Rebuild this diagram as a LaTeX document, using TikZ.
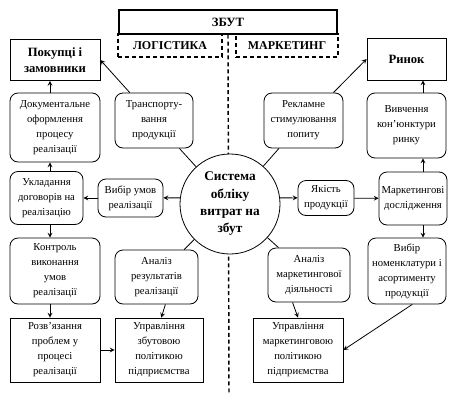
\documentclass[tikz,border=0pt]{standalone}
\usepackage{fontspec}
\setmainfont{Liberation Serif}

\begin{document}
\begin{tikzpicture}[x=0.75pt,y=-0.75pt,>=stealth,line width=0.6pt,
  box/.style={draw,align=center,inner sep=1pt,font=\fontsize{8}{11.25}\selectfont},
  rbox/.style={box,rounded corners=6pt},
  head node/.style={draw,align=center,inner sep=1pt,font=\fontsize{9.5}{12}\selectfont\bfseries},
  dash box/.style={draw,dash pattern=on 3pt off 2.2pt,line width=1.1pt,minimum height=17.25pt,font=\fontsize{9}{11}\selectfont\bfseries}]

            \useasboundingbox (0,0) rectangle (452,396);

            \node[head node, line width=1pt, minimum width=163.5pt, minimum height=18pt] (zbut) at (228,22) {ЗБУТ};
            \coordinate (niz) at (229,394);
            \draw[dash pattern=on 3pt off 2.2pt, line width=1.1pt] (zbut.south) -- (niz);

            \node[dash box, minimum width=78pt] (log) at (170,45.5) {ЛОГІСТИКА};
            \node[dash box, minimum width=76.5pt] (mark) at (287,45.5) {МАРКЕТИНГ};

            \node[head node, minimum width=67.5pt, minimum height=30.75pt] (pokup) at (55,60) {Покупці і\\замовники};
            \node[head node, minimum width=59.25pt, minimum height=31.5pt] (rynok) at (406.5,59) {Ринок};

            \node[rbox, minimum width=67.5pt, minimum height=51.75pt] (dok) at (55,127.5) {Документальне\\оформлення\\процесу\\реалізації};
            \node[rbox, minimum width=58.5pt, minimum height=41.25pt] (transp) at (154,120.5) {Транспорту-\\вання\\продукції};
            \node[rbox, minimum width=59.25pt, minimum height=41.25pt] (reklama) at (303.5,120.5) {Рекламне\\стимулювання\\попиту};
            \node[rbox, minimum width=59.25pt, minimum height=48.75pt] (vyvch) at (406.5,125.5) {Вивчення\\кон’юнктури\\ринку};

            \node[circle, draw, fill=white, minimum size=75pt, inner sep=0pt, align=center,
                  font=\fontsize{10}{13}\selectfont\bfseries] (krug) at (230,204) {Система\\обліку\\витрат на\\збут};

            \node[rbox, minimum width=54.75pt, minimum height=39.75pt] (ukl) at (46.5,198) {Укладання\\договорів на\\реалізацію};
            \node[rbox, minimum width=48.75pt, minimum height=28.5pt] (vybir) at (130.5,198) {Вибір умов\\реалізації};
            \node[rbox, minimum width=42pt, minimum height=26.25pt] (yakist) at (326,198) {Якість\\продукції};
            \node[rbox, minimum width=51pt, minimum height=39.75pt] (market) at (413,198.5) {Маркетингові\\дослідження};

            \node[rbox, minimum width=67.5pt, minimum height=49.5pt] (kontrol) at (55,271) {Контроль\\виконання\\умов\\реалізації};
            \node[rbox, minimum width=62.25pt, minimum height=40.5pt] (analiz1) at (156.5,277) {Аналіз\\результатів\\реалізації};
            \node[rbox, minimum width=61.5pt, minimum height=40.5pt] (analiz2) at (309,275) {Аналіз\\маркетингової\\діяльності};
            \node[rbox, minimum width=58.5pt, minimum height=49.5pt] (nomenkl) at (407,271) {Вибір\\номенклатури і\\асортименту\\продукції};

            \node[box, minimum width=67.5pt, minimum height=48pt] (rozv) at (55,350) {Розв’язання\\проблем у\\процесі\\реалізації};
            \node[box, minimum width=66pt, minimum height=48pt] (upr1) at (159,350) {Управління\\збутовою\\політикою\\підприємства};
            \node[box, minimum width=67.5pt, minimum height=48pt] (upr2) at (298,350) {Управління\\маркетинговою\\політикою\\підприємства};

            \coordinate (lc) at (50,0);
            \coordinate (rc) at (423,0);

            % left side
            \draw[->] (dok.north -| lc) -- (pokup.south -| lc);
            \draw[->] (transp.131) -- (pokup.east);
            \draw[->] (krug.173) -- (vybir);
            \draw[->] (vybir) -- (ukl);
            \draw[->] (ukl.north -| lc) -- (dok.south -| lc);
            \draw[->] (ukl.south -| lc) -- (kontrol.north -| lc);
            \draw[->] (kontrol.south -| lc) -- (rozv.north -| lc);
            \draw[->] (rozv) -- (upr1);
            \draw[->] (analiz1.288) -- (upr1.86);

            % right side
            \draw[->] (reklama.43) -- (rynok.west);
            \draw[->] (vyvch.north -| rc) -- (rynok.south -| rc);
            \draw[->] (krug.7) -- (yakist);
            \draw[->] (yakist) -- (market);
            \draw[->] (market.north -| rc) -- (vyvch.south -| rc);
            \draw[->] (market.south -| rc) -- (nomenkl.north -| rc);
            \draw[->] (analiz2.239) -- (upr2.north);
            \draw[->] (nomenkl.279) -- (upr2.east);

            \draw[-] (krug) -- (transp);
            \draw[-] (krug) -- (reklama);
            \draw[-] (krug) -- (analiz1);
            \draw[-] (krug) -- (analiz2);
        \end{tikzpicture}
\end{document}
